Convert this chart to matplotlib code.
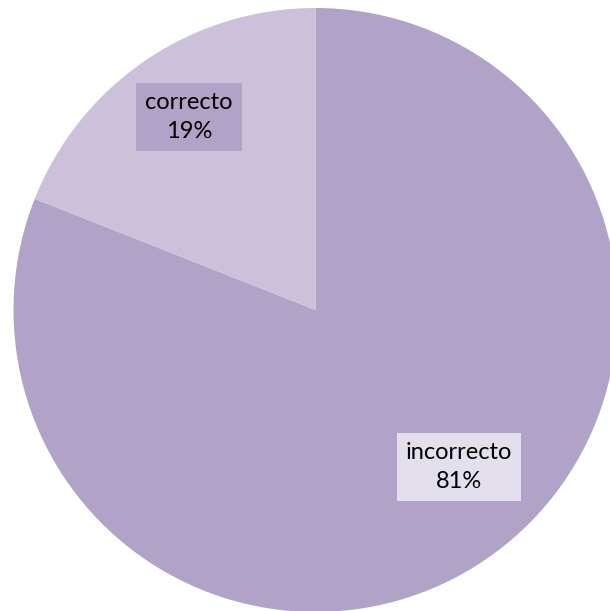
import matplotlib
matplotlib.use("Agg")
import matplotlib.pyplot as plt

categories = ["incorrecto", "correcto"]
values = [81, 19]
slice_colors = ["#B1A2C7", "#CCC0DA"]
label_box_colors = ["#E4DFEC", "#B1A2C7"]

W, H = 610, 611
fig = plt.figure(figsize=(W / 100, H / 100), dpi=100)
ax = fig.add_axes([0, 0, 1, 1])

cx, cy, R = 315.5, H - 310, 302
ax.pie(values, colors=slice_colors, startangle=90, counterclock=False,
       center=(cx, cy), radius=R, frame=True,
       wedgeprops=dict(linewidth=0))
ax.set_xlim(0, W)
ax.set_ylim(0, H)
ax.set_aspect("equal")
ax.axis("off")

# label anchor positions (pixels, from top-left)
label_pos = [(459, 467), (189, 117)]
total = sum(values)
for cat, v, (px, py), bc in zip(categories, values, label_pos, label_box_colors):
    ax.text(px, H - py, f"{cat}\n{round(100 * v / total)}%",
            ha="center", va="center", fontsize=17, family="Lato",
            linespacing=1.5, color="black",
            bbox=dict(boxstyle="square,pad=0.38", fc=bc, ec="none"))

fig.savefig("out.png", dpi=100)
